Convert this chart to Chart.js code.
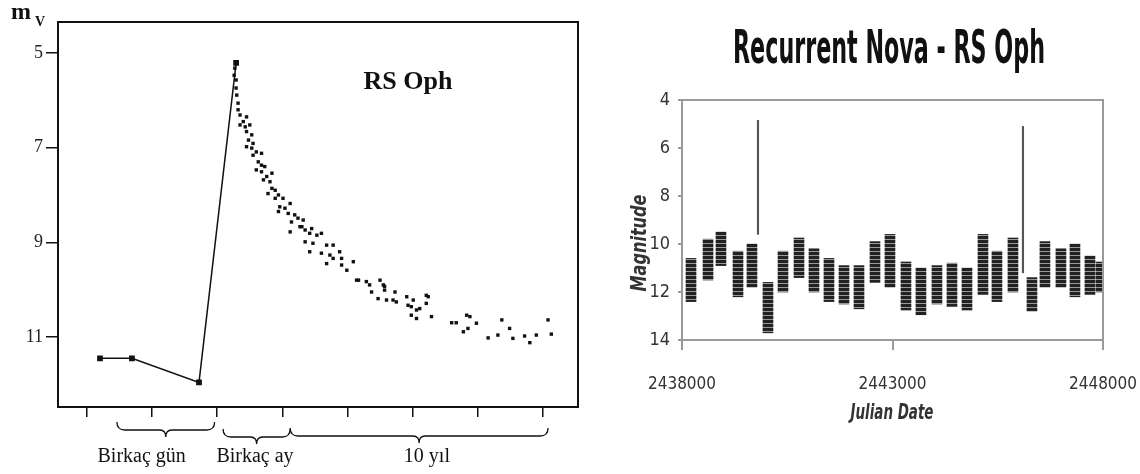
<!DOCTYPE html>
<html lang="tr">
<head>
  <meta charset="UTF-8">
  <title>RS Oph</title>
  <script src="https://cdn.jsdelivr.net/npm/chart.js"></script>
  <style>
    body {
      margin: 0;
      background: #fff;
    }
    #leftChart {
      position: absolute;
      left: 0;
      top: 0;
    }
    #rightChart {
      position: absolute;
      left: 600px;
      top: 0;
    }
  </style>
</head>
<body>
  <canvas id="leftChart" width="600" height="474"></canvas>
  <canvas id="rightChart" width="540" height="474"></canvas>

  <script>
    // ---- left panel: schematic light curve (x in tick units, y in mV) ----
    const phaseTicks = [0, 1, 2, 3, 4, 5, 6, 7];
    const magTicksLeft = [5, 7, 9, 11];

    const riseX = [0.20, 0.69, 1.72, 2.29];
    const riseMag = [11.45, 11.45, 11.96, 5.21];

    const decayX = [
      2.29, 2.27, 2.26, 2.29, 2.29, 2.30, 2.32, 2.32, 2.35, 2.45, 2.40, 2.35, 2.43, 2.50,
      2.45, 2.53, 2.48, 2.55, 2.45, 2.53, 2.60, 2.68, 2.55, 2.63, 2.68, 2.73, 2.60, 2.68,
      2.84, 2.76, 2.71, 2.81, 2.84, 2.89, 2.78, 2.94, 2.89, 3.01, 3.12, 2.96, 3.04, 2.94,
      3.09, 3.19, 3.24, 3.14, 3.32, 3.30, 3.35, 3.45, 3.42, 3.60, 3.12,
      3.27, 3.53, 3.35, 3.47, 3.68, 3.78, 3.42, 3.60, 3.73, 3.88, 3.68, 3.78, 3.91, 3.99,
      4.09, 4.14, 4.29, 4.34, 4.50, 4.37, 4.55, 4.57, 4.47, 4.60, 4.73, 4.75, 4.91, 5.01,
      4.93, 5.06, 5.11, 5.21, 5.21, 5.06, 5.29, 4.98, 5.60, 5.67, 5.78, 5.83, 5.88, 5.85,
      5.98, 6.16, 6.31, 6.37, 6.49, 6.54, 6.72, 6.80, 6.90, 7.08, 7.13,
      4.57, 4.70, 4.98, 5.24, 4.17, 3.91
    ];
    const decayMag = [
      5.21, 5.32, 5.47, 5.57, 5.74, 5.89, 6.06, 6.20, 6.31, 6.35, 6.45, 6.52, 6.56, 6.52,
      6.66, 6.73, 6.84, 6.91, 6.98, 7.01, 7.09, 7.12, 7.16, 7.30, 7.37, 7.40, 7.47, 7.51,
      7.54, 7.61, 7.68, 7.72, 7.86, 7.90, 7.97, 8.00, 8.07, 8.07, 8.18, 8.25, 8.28, 8.35,
      8.39, 8.42, 8.49, 8.57, 8.53, 8.67, 8.74, 8.71, 8.81, 8.81, 8.78,
      8.67, 8.85, 8.99, 9.02, 9.06, 9.06, 9.20, 9.23, 9.27, 9.20, 9.45, 9.34, 9.48, 9.59,
      9.41, 9.80, 9.83, 9.90, 9.80, 10.05, 9.90, 10.01, 10.19, 10.22, 10.05, 10.26, 10.15, 10.22,
      10.33, 10.43, 10.40, 10.29, 10.12, 10.61, 10.57, 10.54, 10.70, 10.70, 10.89, 10.54, 10.57, 10.82,
      10.71, 11.02, 10.96, 10.64, 10.82, 11.03, 10.98, 11.12, 10.96, 10.64, 10.94,
      9.93, 10.22, 10.36, 10.15, 9.80, 9.34
    ];

    const spanLabels = ['Birkaç gün', 'Birkaç ay', '10 yıl'];
    const spanFrom = [0.46, 2.09, 3.12];
    const spanTo = [1.96, 3.12, 7.08];
    const spanLabelX = [0.84, 2.58, 5.22];

    // ---- right panel: AAVSO style light curve ----
    const jdTicks = [2438000, 2443000, 2448000];
    const seasonJD = [
      2438214, 2438618, 2438926, 2439330, 2439662, 2440042, 2440399, 2440779,
      2441135, 2441491, 2441848, 2442204, 2442584, 2442940, 2443320, 2443676,
      2444056, 2444413, 2444769, 2445149, 2445481, 2445861, 2446313, 2446621,
      2447001, 2447334, 2447690, 2447951
    ];
    const seasonBright = [
      10.6, 9.8, 9.5, 10.3, 10.0, 11.6, 10.3, 9.75,
      10.2, 10.6, 10.9, 10.9, 9.9, 9.6, 10.75, 11.0,
      10.9, 10.8, 11.0, 9.6, 10.3, 9.75, 11.4, 9.9,
      10.2, 10.0, 10.5, 10.75
    ];
    const seasonFaint = [
      12.4, 11.5, 10.9, 12.2, 11.8, 13.7, 12.0, 11.4,
      12.0, 12.4, 12.5, 12.7, 11.6, 11.8, 12.75, 12.95,
      12.5, 12.6, 12.75, 12.1, 12.4, 12.0, 12.8, 11.8,
      11.8, 12.2, 12.1, 12.0
    ];
    const outburstJD = [2439805, 2446099];
    const outburstPeak = [4.85, 5.1];
    const outburstBase = [9.6, 11.2];

    // ---------------- left chart ----------------
    const leftDecor = {
      id: 'leftDecor',
      afterDraw(chart) {
        const { ctx, chartArea: a, scales: { x } } = chart;
        ctx.save();
        ctx.strokeStyle = '#111';
        ctx.lineWidth = 2;
        ctx.strokeRect(a.left, a.top, a.right - a.left, a.bottom - a.top);

        // m_V axis label
        ctx.fillStyle = '#111';
        ctx.textAlign = 'left';
        ctx.textBaseline = 'alphabetic';
        ctx.font = 'bold 24px "Liberation Serif"';
        ctx.fillText('m', 11, 19);
        ctx.font = 'bold 14px "Liberation Serif"';
        ctx.fillText('V', 35, 26);

        ctx.font = 'bold 26px "Liberation Serif"';
        ctx.textAlign = 'center';
        ctx.fillText('RS Oph', 408, 89);

        // braces under the axis
        const braceY = [430, 437, 436];
        ctx.lineWidth = 1.3;
        spanLabels.forEach((lab, i) => {
          const x1 = x.getPixelForValue(spanFrom[i]);
          const x2 = x.getPixelForValue(spanTo[i]);
          const xm = (x1 + x2) / 2;
          const y = braceY[i];
          ctx.beginPath();
          ctx.moveTo(x1, y - 8);
          ctx.quadraticCurveTo(x1, y, x1 + 8, y);
          ctx.lineTo(xm - 6, y);
          ctx.quadraticCurveTo(xm, y, xm, y + 7);
          ctx.quadraticCurveTo(xm, y, xm + 6, y);
          ctx.lineTo(x2 - 8, y);
          ctx.quadraticCurveTo(x2, y, x2, y - 8);
          ctx.stroke();

          ctx.font = '20px "Liberation Serif"';
          ctx.fillText(lab, x.getPixelForValue(spanLabelX[i]), 462);
        });
        ctx.restore();
      }
    };

    new Chart(document.getElementById('leftChart'), {
      type: 'scatter',
      data: {
        datasets: [
          {
            label: 'rise',
            data: riseX.map((x, i) => ({ x: x, y: riseMag[i] })),
            showLine: true,
            borderColor: '#111',
            borderWidth: 1.5,
            backgroundColor: '#111',
            pointStyle: 'rect',
            pointRadius: 3,
            tension: 0
          },
          {
            label: 'decline',
            data: decayX.map((x, i) => ({ x: x, y: decayMag[i] })),
            backgroundColor: '#111',
            borderWidth: 0,
            pointStyle: 'rect',
            pointRadius: 2.4
          }
        ]
      },
      options: {
        responsive: false,
        animation: false,
        layout: { padding: { left: 0, right: 22, top: 22, bottom: 0 } },
        plugins: { legend: { display: false }, tooltip: { enabled: false } },
        scales: {
          x: {
            type: 'linear',
            min: -0.445,
            max: 7.54,
            afterBuildTicks: axis => { axis.ticks = phaseTicks.map(v => ({ value: v })); },
            afterFit: axis => { axis.height = 67; },
            ticks: { display: false },
            grid: { drawOnChartArea: false, tickLength: 10, color: '#111', lineWidth: 1.5 },
            border: { color: '#111', width: 2 }
          },
          y: {
            reverse: true,
            min: 4.345,
            max: 12.48,
            afterBuildTicks: axis => { axis.ticks = magTicksLeft.map(v => ({ value: v })); },
            afterFit: axis => { axis.width = 58; },
            ticks: {
              color: '#222',
              padding: 3,
              font: { family: '"Liberation Serif"', size: 18 }
            },
            grid: { drawOnChartArea: false, tickLength: 12, color: '#111', lineWidth: 1.5 },
            border: { color: '#111', width: 2 }
          }
        }
      },
      plugins: [leftDecor]
    });

    // ---------------- right chart ----------------
    const rightCanvas = document.getElementById('rightChart');
    const stripeTile = document.createElement('canvas');
    stripeTile.width = 4;
    stripeTile.height = 4;
    const st = stripeTile.getContext('2d');
    st.fillStyle = '#222';
    st.fillRect(0, 0, 4, 3);
    st.fillStyle = '#999';
    st.fillRect(0, 3, 4, 1);
    const stripes = rightCanvas.getContext('2d').createPattern(stripeTile, 'repeat');

    const narrow = '"Liberation Sans Narrow", "DejaVu Sans Condensed", "Liberation Sans", sans-serif';

    function fitText(ctx, text, font, width, x, y, angle) {
      ctx.save();
      ctx.font = font;
      const w = ctx.measureText(text).width;
      ctx.translate(x, y);
      if (angle) ctx.rotate(angle);
      ctx.scale(width / w, 1);
      ctx.fillText(text, 0, 0);
      ctx.restore();
    }

    const rightDecor = {
      id: 'rightDecor',
      afterDraw(chart) {
        const { ctx, chartArea: a } = chart;
        ctx.save();
        ctx.strokeStyle = '#9a9a9a';
        ctx.lineWidth = 2;
        ctx.beginPath();
        ctx.moveTo(a.left, a.top);
        ctx.lineTo(a.right, a.top);
        ctx.lineTo(a.right, a.bottom);
        ctx.stroke();

        ctx.textAlign = 'center';
        ctx.textBaseline = 'alphabetic';
        ctx.fillStyle = '#111';
        fitText(ctx, 'Recurrent Nova - RS Oph', 'bold 46px ' + narrow, 312, 289, 63, 0);

        ctx.textBaseline = 'middle';
        ctx.fillStyle = '#333';
        fitText(ctx, 'Magnitude', 'bold italic 22px ' + narrow, 97, 40, 243, -Math.PI / 2);
        fitText(ctx, 'Julian Date', 'bold italic 22px ' + narrow, 83, 292, 413, 0);
        ctx.restore();
      }
    };

    new Chart(rightCanvas, {
      type: 'bar',
      data: {
        datasets: [
          {
            label: 'seasons',
            data: seasonJD.map((x, i) => ({ x: x, y: [seasonBright[i], seasonFaint[i]] })),
            backgroundColor: stripes,
            borderWidth: 0,
            barThickness: 10,
            grouped: false
          },
          {
            label: 'outbursts',
            data: outburstJD.map((x, i) => ({ x: x, y: [outburstPeak[i], outburstBase[i]] })),
            backgroundColor: '#555',
            borderWidth: 0,
            barThickness: 1.5,
            grouped: false
          }
        ]
      },
      options: {
        responsive: false,
        animation: false,
        layout: { padding: { left: 0, right: 37, top: 100, bottom: 0 } },
        plugins: { legend: { display: false }, tooltip: { enabled: false } },
        scales: {
          x: {
            type: 'linear',
            min: 2438000,
            max: 2448000,
            offset: false,
            afterBuildTicks: axis => { axis.ticks = jdTicks.map(v => ({ value: v })); },
            afterFit: axis => {
              axis.height = 134;
              axis.paddingLeft = 0;
              axis.paddingRight = 0;
            },
            ticks: {
              color: '#333',
              padding: 24,
              maxRotation: 0,
              autoSkip: false,
              font: { family: narrow, size: 17 },
              callback: v => String(v)
            },
            grid: { drawOnChartArea: false, offset: false, tickLength: 10, color: '#9a9a9a', lineWidth: 2 },
            border: { color: '#9a9a9a', width: 2 }
          },
          y: {
            reverse: true,
            min: 4,
            max: 14,
            afterFit: axis => { axis.width = 82; },
            ticks: {
              stepSize: 2,
              color: '#333',
              padding: 8,
              font: { family: narrow, size: 18 }
            },
            grid: { drawOnChartArea: false, tickLength: 4, color: '#9a9a9a', lineWidth: 2 },
            border: { color: '#9a9a9a', width: 2 }
          }
        }
      },
      plugins: [rightDecor]
    });
  </script>
</body>
</html>
